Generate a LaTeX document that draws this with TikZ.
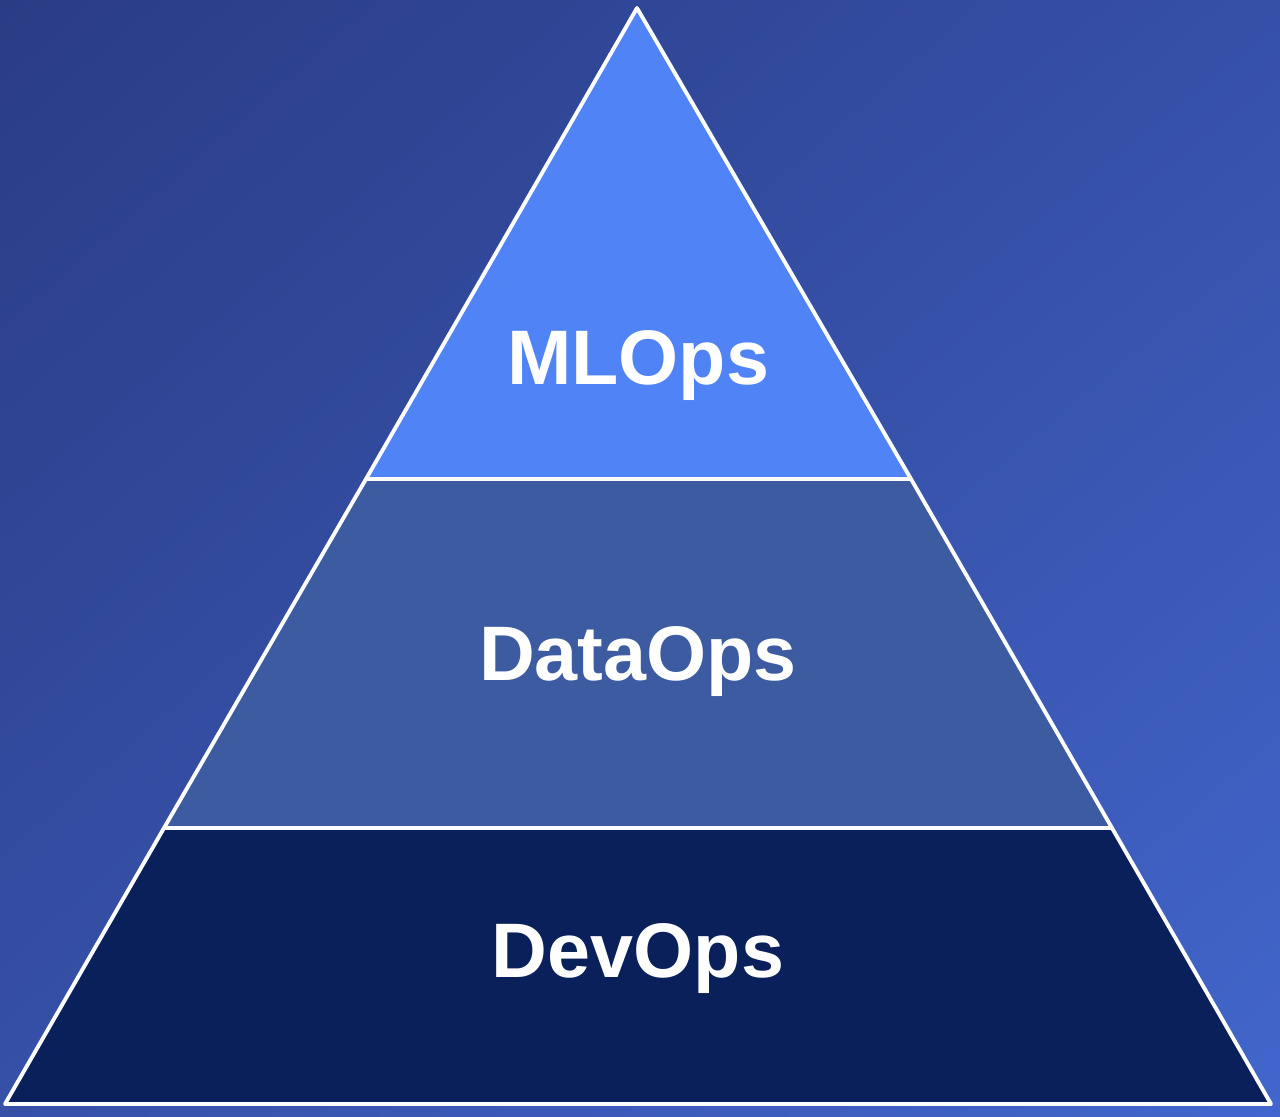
\documentclass[tikz,border=0pt]{standalone}
\usepackage{fontspec}
\usetikzlibrary{shadings}
\setmainfont{Liberation Sans}
\definecolor{bgA}{HTML}{2A3C84}
\definecolor{bgB}{HTML}{4266CC}
\definecolor{bgM}{HTML}{3650A8}
\definecolor{ml}{HTML}{5083F5}
\definecolor{data}{HTML}{3D5BA0}
\definecolor{dev}{HTML}{0A205A}
\tikzset{layer/.style={draw=white,line width=2.2pt,line join=round},
lbl/.style={text=white,font=\fontsize{44}{44}\selectfont\bfseries}}
\begin{document}
\begin{tikzpicture}[x=0.02cm,y=-0.02cm]
\useasboundingbox (0,0) rectangle (1280,1116);
\shade[upper left=bgA,lower right=bgB,upper right=bgM,lower left=bgM] (0,0) rectangle (1280,1116);
\filldraw[layer,fill=ml] (637,8) -- (911,479) -- (366,479) -- cycle;
\filldraw[layer,fill=data] (366,479) -- (911,479) -- (1112,828) -- (164,828) -- cycle;
\filldraw[layer,fill=dev] (164,828) -- (1112,828) -- (1271,1104) -- (5,1104) -- cycle;
\node[lbl] (m) at (638,366) {MLOps};
\node[lbl] (d) at (638,662) {DataOps};
\node[lbl] (v) at (638,959) {DevOps};
\end{tikzpicture}
\end{document}
